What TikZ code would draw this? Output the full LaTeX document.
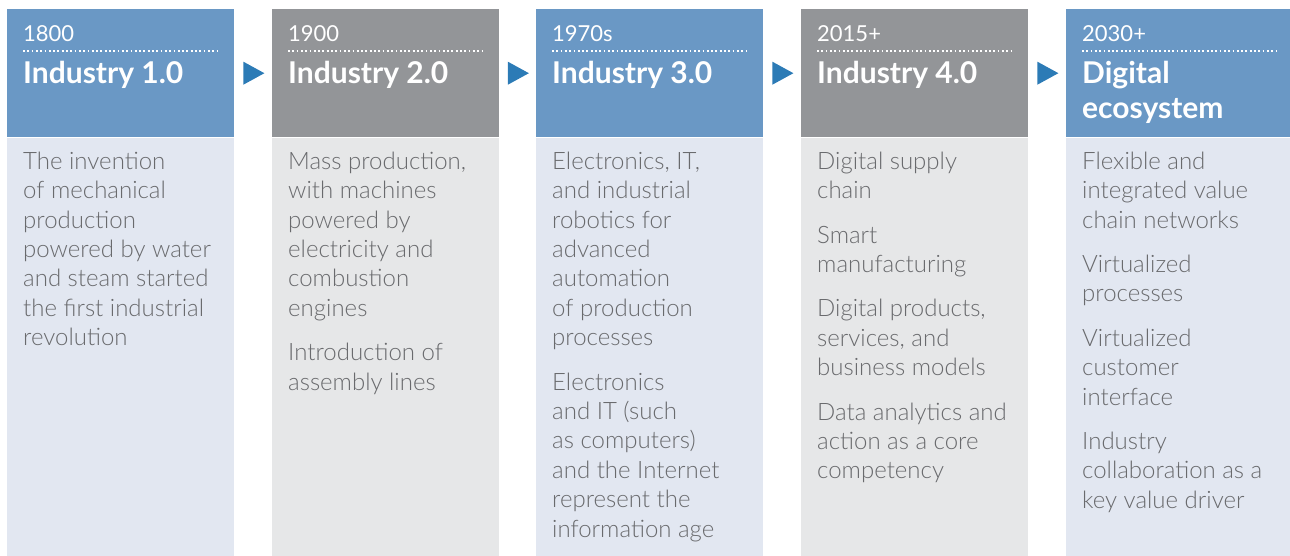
\documentclass[tikz,border=0pt]{standalone}
\usepackage{fontspec}
\setmainfont{Lato}[UprightFont=* Light, BoldFont=* Bold]
\newfontfamily\yearfont{Lato}
\usetikzlibrary{positioning, shapes.geometric, calc}

\definecolor{hdblue}{HTML}{6A98C5}
\definecolor{hdgray}{HTML}{939598}
\definecolor{bdblue}{HTML}{E2E7F1}
\definecolor{bdgray}{HTML}{E6E7E8}
\definecolor{arrowblue}{HTML}{2C7BB6}
\definecolor{bodytext}{HTML}{696A6D}

% lines stacked from the top, baseline on the first one
\newcommand{\stack}[1]{\begin{tabular}[t]{@{}l@{}}#1\end{tabular}}

\begin{document}
\begin{tikzpicture}[x=1pt, y=-1pt,
    head/.style={minimum width=227pt, minimum height=128pt, inner sep=0pt, anchor=north west},
    body/.style={minimum width=227pt, minimum height=419pt, inner sep=0pt, anchor=north west},
    year/.style={anchor=base west, inner sep=0pt, text=white, font=\yearfont\fontsize{22}{27}\selectfont},
    title/.style={anchor=base west, inner sep=0pt, text=white, font=\fontsize{30}{35}\selectfont\bfseries},
    desc/.style={anchor=base west, inner sep=0pt, text=bodytext, font=\fontsize{24}{29.4}\selectfont},
    dots/.style={white, line width=1.8pt, dash pattern=on 1.8pt off 2.5pt},
    tri/.style={isosceles triangle, isosceles triangle stretches, minimum height=21pt, minimum width=23pt, inner sep=0pt, fill=arrowblue, xshift=-3pt}]
    \useasboundingbox (0,0) rectangle (1290,556);

    % header boxes
    \node[head, fill=hdblue] (h1) at (7,9) {};
    \node[head, fill=hdgray] (h2) at (272,9) {};
    \node[head, fill=hdblue] (h3) at (536,9) {};
    \node[head, fill=hdgray] (h4) at (801,9) {};
    \node[head, fill=hdblue] (h5) at (1066,9) {};

    % text panels
    \node[body, fill=bdblue] (b1) at (h1.south west) {};
    \node[body, fill=bdgray] (b2) at (h2.south west) {};
    \node[body, fill=bdblue] (b3) at (h3.south west) {};
    \node[body, fill=bdgray] (b4) at (h4.south west) {};
    \node[body, fill=bdblue] (b5) at (h5.south west) {};

    % arrows between the eras
    \node[tri] (a1) at ($(h1.east)!0.5!(h2.west)$) {};
    \node[tri] (a2) at ($(h2.east)!0.5!(h3.west)$) {};
    \node[tri] (a3) at ($(h3.east)!0.5!(h4.west)$) {};
    \node[tri] (a4) at ($(h4.east)!0.5!(h5.west)$) {};

    \node[year] (y1) at (23,41.7) {1800};
    \node[year] (y2) at (288,41.7) {1900};
    \node[year] (y3) at (552,41.7) {1970s};
    \node[year] (y4) at (817,41.7) {2015+};
    \node[year] (y5) at (1082,41.7) {2030+};

    \draw[dots] (23,51) -- (218,51);
    \draw[dots] (288,51) -- (483,51);
    \draw[dots] (552,51) -- (747,51);
    \draw[dots] (817,51) -- (1012,51);
    \draw[dots] (1082,51) -- (1277,51);

    \node[title] (t1) at (23,83.3) {Industry 1.0};
    \node[title] (t2) at (288,83.3) {Industry 2.0};
    \node[title] (t3) at (552,83.3) {Industry 3.0};
    \node[title] (t4) at (817,83.3) {Industry 4.0};
    \node[title] (t5) at (1082,83.3) {\stack{Digital\\ecosystem}};

    \node[desc] (d1) at (23,169.3) {\stack{The invention\\of mechanical\\production\\powered by water\\and steam started\\the first industrial\\revolution}};
    \node[desc] (d2) at (288,169.3) {\stack{Mass production,\\with machines\\powered by\\electricity and\\combustion\\engines\\[15pt]Introduction of\\assembly lines}};
    \node[desc] (d3) at (552,169.3) {\stack{Electronics, IT,\\and industrial\\robotics for\\advanced\\automation\\of production\\processes\\[15pt]Electronics\\and IT (such\\as computers)\\and the Internet\\represent the\\information age}};
    \node[desc] (d4) at (817,169.3) {\stack{Digital supply\\chain\\[15pt]Smart\\manufacturing\\[15pt]Digital products,\\services, and\\business models\\[15pt]Data analytics and\\action as a core\\competency}};
    \node[desc] (d5) at (1082,169.3) {\stack{Flexible and\\integrated value\\chain networks\\[15pt]Virtualized\\processes\\[15pt]Virtualized\\customer\\interface\\[15pt]Industry\\collaboration as a\\key value driver}};
\end{tikzpicture}
\end{document}
